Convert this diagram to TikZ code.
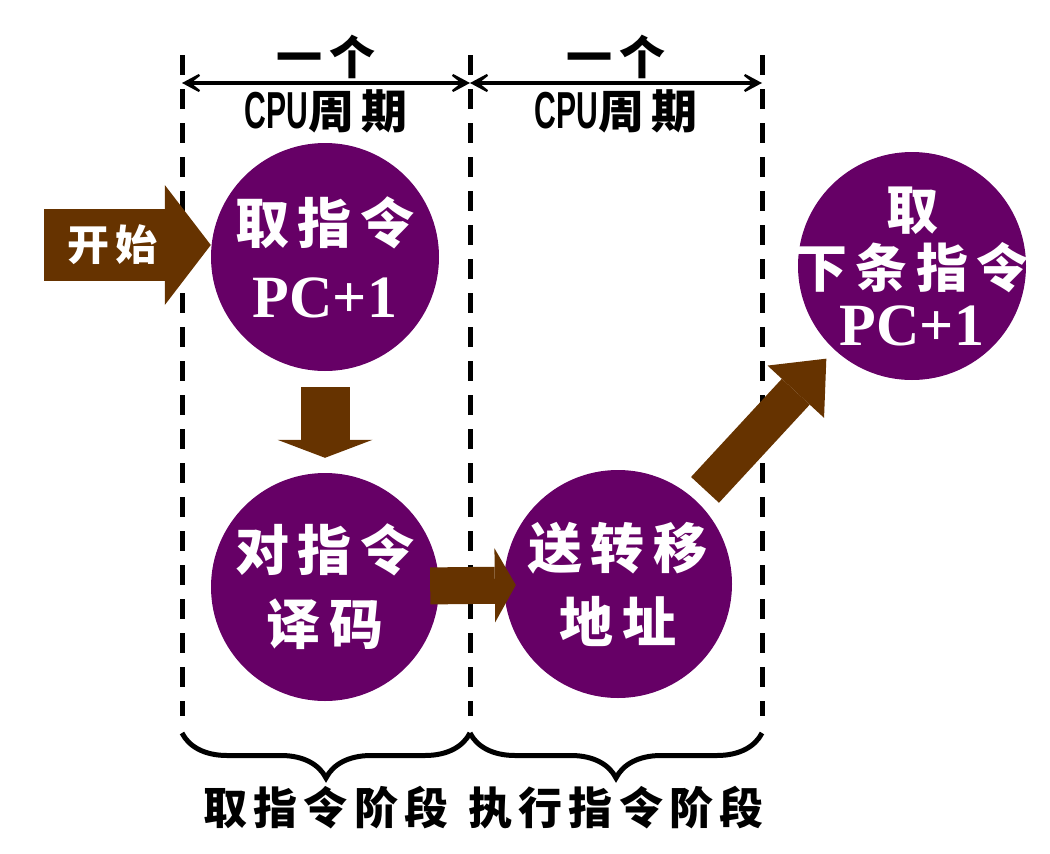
\documentclass[tikz,border=0pt]{standalone}
\usepackage{fontspec}
\usepackage{tikz}
\usetikzlibrary{positioning, arrows.meta, calc, decorations.pathreplacing}

\newfontfamily\stagefont{Noto Sans CJK SC}[LetterSpace=16]
\newfontfamily\labelfont{Noto Sans CJK SC}[LetterSpace=14]
\newfontfamily\pcfont{Liberation Serif}
\newfontfamily\cpufont{Liberation Sans}[FakeStretch=0.58]

\definecolor{stagepurple}{HTML}{660066}
\definecolor{flowbrown}{HTML}{663300}

\newcommand{\pcone}{{\pcfont\bfseries\fontsize{60}{60}\selectfont PC+1}}

\begin{document}
\begin{tikzpicture}[
    x=1pt, y=-1pt,
    stage/.style={
        circle,
        fill=stagepurple,
        minimum size=228pt,
        inner sep=-40pt,
        text=white,
        align=center,
        font=\stagefont\bfseries\fontsize{54}{74}\selectfont
    },
    blockarrow/.style n args={3}{
        draw=flowbrown,
        line width=#1,
        -{Triangle[length=#2, width=#3, line width=0pt]}
    },
    divider/.style={
        line width=5pt,
        dash pattern=on 20pt off 14pt
    },
    span/.style={
        {Stealth[length=28pt, width=30pt, inset=19pt]}-{Stealth[length=28pt, width=30pt, inset=19pt]},
        line width=3.5pt
    },
    phasebrace/.style={
        line width=5pt,
        decorate,
        decoration={brace, mirror, amplitude=45pt}
    },
    toplabel/.style={
        font=\labelfont\bfseries\fontsize{46}{46}\selectfont,
        inner sep=0pt
    },
    phase/.style={
        font=\labelfont\bfseries\fontsize{44}{44}\selectfont,
        inner sep=0pt
    }
]

\useasboundingbox (0,0) rectangle (1050,854);

% ===== 虚线分割线 =====
\foreach \n/\x in {1/182, 2/470, 3/762} {
    \coordinate (top\n) at (\x,55);
    \coordinate (bot\n) at (\x,716);
    \coordinate (s\n) at (\x,83);
    \coordinate (b\n) at (\x,733);
    \draw[divider] (top\n) -- (bot\n);
}

% ===== CPU周期 =====
\draw[span] (s1) -- (s2);
\draw[span] (s2) -- (s3);
\node[toplabel] (one1) at ($(s1)!0.5!(s2)+(0,-26)$) {一个};
\node[toplabel] (cyc1) at ($(s1)!0.5!(s2)+(0,28)$) {{\cpufont\bfseries\fontsize{52}{52}\selectfont CPU}周期};
\node[toplabel] (one2) at ($(s2)!0.5!(s3)+(0,-26)$) {一个};
\node[toplabel] (cyc2) at ($(s2)!0.5!(s3)+(0,28)$) {{\cpufont\bfseries\fontsize{52}{52}\selectfont CPU}周期};

% ===== 阶段节点 =====
\node[stage] (c1) at (325,257) {取指令\\\pcone};
\node[stage] (c2) at (325,587) {对指令\\译码};
\node[stage] (c3) at (618,584) {送转移\\地址};
\node[stage, font=\stagefont\bfseries\fontsize{52}{58}\selectfont] (c4) at (912,266) {取\\下条指令\\\pcone};

% ===== 箭头连接 =====
\coordinate (start) at (44,245);
\draw[blockarrow={72pt}{46pt}{120pt}] (start) -- node[pos=0.41, text=white, font=\labelfont\bfseries\fontsize{42}{42}\selectfont] (go) {开始} (start -| c1.west);
\draw[blockarrow={49pt}{18pt}{95pt}, shorten <=16pt, shorten >=15pt] (c1) -- (c2);
\draw[blockarrow={37pt}{21pt}{74pt}, shorten <=-9pt, shorten >=-12pt] (c2) -- (c3);
\draw[blockarrow={38pt}{45pt}{77pt}, shorten <=14pt, shorten >=12pt] (c3) -- (c4);

% ===== 阶段括号 =====
\draw[phasebrace] (b1) -- (b2);
\draw[phasebrace] (b2) -- (b3);
\node[phase] (fetch) at ($(b1)!0.5!(b2)+(0,75)$) {取指令阶段};
\node[phase] (exec) at ($(b2)!0.5!(b3)+(0,75)$) {执行指令阶段};

\end{tikzpicture}
\end{document}
